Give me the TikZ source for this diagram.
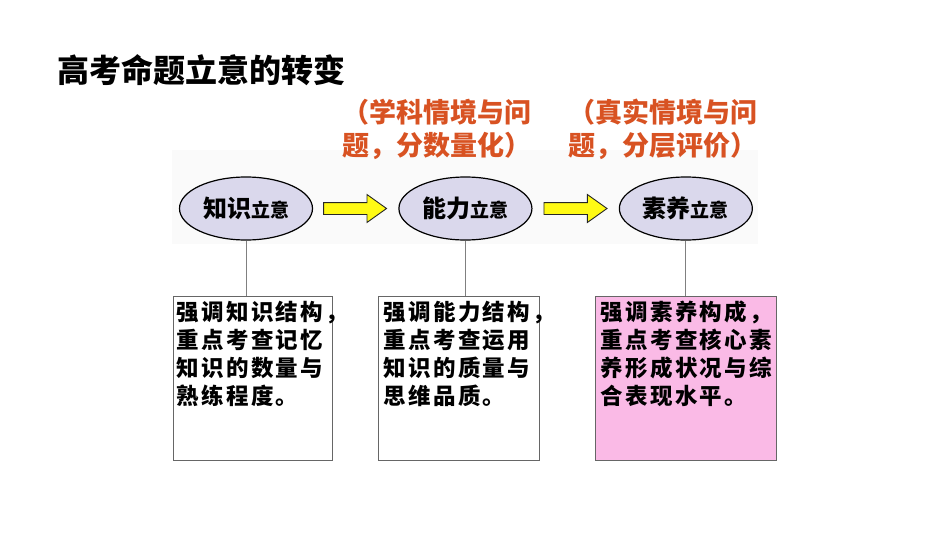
\documentclass[tikz,border=0pt]{standalone}
\usepackage{fontspec}
\usepackage{tikz}
\usetikzlibrary{positioning,shapes.geometric,shapes.arrows}
\setmainfont{Noto Sans CJK SC}
\newfontfamily\notefont{Noto Sans CJK SC}[LetterSpace=10]
\definecolor{stagefill}{RGB}{218,216,236}
\definecolor{notepink}{RGB}{250,186,230}
\definecolor{hintred}{RGB}{216,82,34}
\definecolor{arrowyellow}{RGB}{255,250,20}

\begin{document}
\begin{tikzpicture}[x=1pt,y=-1pt,
  stage/.style={ellipse, draw=black, line width=1.2pt, fill=stagefill, inner sep=0pt, minimum width=133pt, minimum height=63pt},
  flowarrow/.style={single arrow, draw=black!85, line width=0.9pt, fill=arrowyellow, inner sep=5.5pt, minimum height=63pt, single arrow head extend=8pt, single arrow tip angle=71},
  notebox/.style={draw=black!60, line width=0.8pt, minimum height=164pt, inner sep=0pt},
  notetext/.style={anchor=north west, inner sep=0pt, align=left, font=\notefont\fontsize{22.5}{28}\selectfont\bfseries},
  hint/.style={anchor=west, inner sep=0pt, align=left, text=hintred, font=\fontsize{27}{33}\selectfont\bfseries},
  link/.style={draw=black!50, line width=0.8pt}]
  \useasboundingbox (0,0) rectangle (950,535);
  \fill[white] (0,0) rectangle (950,535);
  \fill[black!2] (172,150) rectangle (758,244);

  % Title
  \node[anchor=west, inner sep=0pt, font=\fontsize{32}{32}\selectfont\bfseries] (title) at (57,70) {高考命题立意的转变};

  % Hints above the arrows
  \node[hint] (h1) at (342,129.5) {（学科情境与问\\题，分数量化）};
  \node[hint] (h2) at (568,129.5) {（真实情境与问\\题，分层评价）};

  % Stages
  \node[stage] (e1) at (246,208.5) {{\fontsize{24}{24}\selectfont\bfseries 知识}{\fontsize{19}{19}\selectfont\bfseries 立意}};
  \node[flowarrow, right=10pt of e1] (a1) {};
  \node[stage, right=11pt of a1] (e2) {{\fontsize{24}{24}\selectfont\bfseries 能力}{\fontsize{19}{19}\selectfont\bfseries 立意}};
  \node[flowarrow, right=11pt of e2] (a2) {};
  \node[stage, right=11pt of a2] (e3) {{\fontsize{24}{24}\selectfont\bfseries 素养}{\fontsize{19}{19}\selectfont\bfseries 立意}};

  % Notes
  \node[notebox, minimum width=159pt] (b1) at (252.5,378) {};
  \node[notebox, minimum width=161pt] (b2) at (458.5,378) {};
  \node[notebox, minimum width=181pt, fill=notepink] (b3) at (685.5,378) {};

  \node[notetext] (t1) at ([xshift=4pt,yshift=-5pt]b1.north west) {强调知识结构，\\重点考查记忆\\知识的数量与\\熟练程度。};
  \node[notetext] (t2) at ([xshift=6pt,yshift=-5pt]b2.north west) {强调能力结构，\\重点考查运用\\知识的质量与\\思维品质。};
  \node[notetext] (t3) at ([xshift=6pt,yshift=-5pt]b3.north west) {强调素养构成，\\重点考查核心素\\养形成状况与综\\合表现水平。};

  % Links
  \draw[link] (e1.south) -- (e1.south |- b1.north);
  \draw[link] (e2.south) -- (e2.south |- b2.north);
  \draw[link] (e3.south) -- (e3.south |- b3.north);
\end{tikzpicture}
\end{document}
